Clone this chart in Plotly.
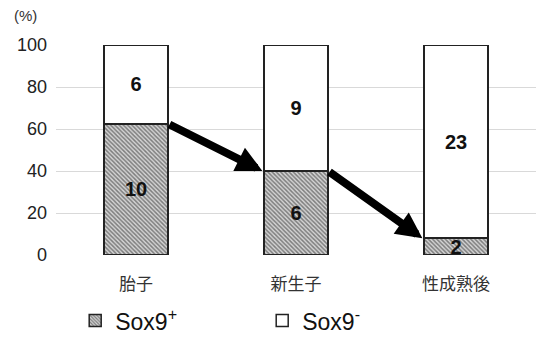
import plotly.graph_objects as go

# Cell counts per developmental stage
stages = ["胎子", "新生子", "性成熟後"]
sox9_pos = [10, 6, 2]
sox9_neg = [6, 9, 23]
y_ticks = [0, 20, 40, 60, 80, 100]

totals = [p + n for p, n in zip(sox9_pos, sox9_neg)]
pos_pct = [100 * p / t for p, t in zip(sox9_pos, totals)]
neg_pct = [100 * n / t for n, t in zip(sox9_neg, totals)]

num_font = "Liberation Sans, Arial, sans-serif"
jp_font = "Noto Sans CJK JP, sans-serif"
bar_w = 0.4

fig = go.Figure()
fig.add_trace(go.Bar(
    x=stages, y=pos_pct, width=bar_w, name="Sox9<sup>+</sup>",
    text=["<b>%d</b>" % v for v in sox9_pos], textposition="inside",
    insidetextanchor="middle", constraintext="none", textangle=0,
    textfont=dict(family=num_font, size=20, color="#111"),
    marker=dict(color="#c8c8c8", line=dict(color="#222", width=1.5),
                pattern=dict(shape="\\", fgcolor="#262626", bgcolor="#d4d4d4",
                             size=3, solidity=0.5)),
))
fig.add_trace(go.Bar(
    x=stages, y=neg_pct, width=bar_w, name="Sox9<sup>-</sup>",
    text=["<b>%d</b>" % v for v in sox9_neg], textposition="inside",
    insidetextanchor="middle", constraintext="none", textangle=0,
    textfont=dict(family=num_font, size=20, color="#111"),
    marker=dict(color="white", line=dict(color="#222", width=1.5)),
))

# Arrows tracing the decline of the Sox9+ fraction between stages
for i in range(len(stages) - 1):
    fig.add_annotation(
        x=i + 1 - bar_w / 2 - 0.01, y=pos_pct[i + 1],
        ax=i + bar_w / 2, ay=pos_pct[i],
        xref="x", yref="y", axref="x", ayref="y",
        showarrow=True, arrowhead=2, arrowsize=0.65, arrowwidth=8,
        arrowcolor="black", standoff=0, startstandoff=0, text="",
    )

fig.add_annotation(text="(%)", xref="paper", yref="paper", x=-0.092, y=1.09,
                   xanchor="left", yanchor="bottom", showarrow=False,
                   font=dict(family=num_font, size=15, color="#333"))

fig.update_layout(
    barmode="stack",
    width=536, height=338,
    margin=dict(l=56, r=0, t=45, b=83, autoexpand=False),
    paper_bgcolor="white", plot_bgcolor="white",
    showlegend=True,
    legend=dict(orientation="h", x=0.04, y=-0.21, xanchor="left", yanchor="top",
                traceorder="normal", entrywidth=142, entrywidthmode="pixels",
                itemwidth=30,
                font=dict(family=num_font, size=23, color="#111")),
    xaxis=dict(showgrid=False, showline=False, ticks="", ticklabelstandoff=17,
               tickfont=dict(family=jp_font, size=17, color="#333")),
    yaxis=dict(range=[0, 100], tickvals=y_ticks, showgrid=True, gridcolor="#d9d9d9",
               gridwidth=1, zeroline=False, showline=False, ticks="", ticklabelstandoff=8,
               tickfont=dict(family=num_font, size=18, color="#222")),
)

fig.write_html("out.html")
